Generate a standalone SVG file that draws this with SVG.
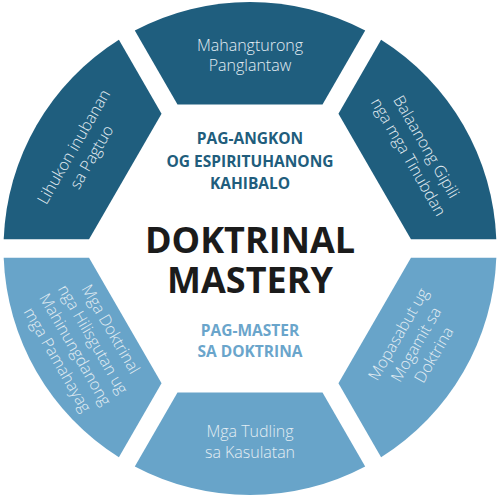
<svg xmlns="http://www.w3.org/2000/svg" width="500" height="497" viewBox="0 0 500 497">
<style>
.dark{fill:#1f5e7e}
.light{fill:#68a4c9}
.seg{font-family:"Open Sans","Noto Sans","Liberation Sans",sans-serif;font-weight:300;font-size:16px;fill:#e3edf3;text-anchor:middle}
.sub{font-family:"Open Sans","Noto Sans","Liberation Sans",sans-serif;font-weight:700;font-size:15.5px;text-anchor:middle}
.title{font-family:"Open Sans","Noto Sans","Liberation Sans",sans-serif;font-weight:700;font-size:36px;fill:#1b1b1b;text-anchor:middle}
</style>
<defs>
<path id="segshape" d="M134.8 30.6 A246.5 246.5 0 0 1 365.2 30.6 L322.5 104.5 L177.5 104.5 Z"/>
</defs>
<rect width="500" height="497" fill="#ffffff"/>
<g id="seg-top">
<use href="#segshape" class="dark"/>
<text class="seg" x="250" y="50.7">Mahangturong</text>
<text class="seg" x="250" y="71">Panglantaw</text>
</g>
<g id="seg-top-right">
<use href="#segshape" class="dark" transform="rotate(60 250 248.5)"/>
<g transform="translate(416.3 152.5) rotate(60)">
<text class="seg" x="0" y="-6">Balaanong Gipili</text>
<text class="seg" x="0" y="14.5">nga mga Tinubdan</text>
</g>
</g>
<g id="seg-bottom-right">
<use href="#segshape" class="light" transform="rotate(120 250 248.5)"/>
<g transform="translate(417 345) rotate(-60)">
<text class="seg" x="0" y="-16">Mopasabut ug</text>
<text class="seg" x="0" y="4.5">Mogamit sa</text>
<text class="seg" x="0" y="25">Doktrina</text>
</g>
</g>
<g id="seg-bottom">
<use href="#segshape" class="light" transform="rotate(180 250 248.5)"/>
<text class="seg" x="250" y="437">Mga Tudling</text>
<text class="seg" x="250" y="458">sa Kasulatan</text>
</g>
<g id="seg-bottom-left">
<use href="#segshape" class="light" transform="rotate(240 250 248.5)"/>
<g transform="translate(83 345) rotate(60)">
<text class="seg" x="0" y="-26.5">Mga Doktrinal</text>
<text class="seg" x="0" y="-6">nga Hilisgutan ug</text>
<text class="seg" x="0" y="14.5">Mahinungdanong</text>
<text class="seg" x="0" y="35">mga Pamahayag</text>
</g>
</g>
<g id="seg-top-left">
<use href="#segshape" class="dark" transform="rotate(300 250 248.5)"/>
<g transform="translate(83.7 152.5) rotate(-60)">
<text class="seg" x="0" y="-6">Lihukon inubanan</text>
<text class="seg" x="0" y="14.5">sa Pagtuo</text>
</g>
</g>
<g id="center">
<text class="sub" x="250" y="144.3" fill="#215d7c">PAG-ANGKON</text>
<text class="sub" x="250" y="166.7" fill="#215d7c">OG ESPIRITUHANONG</text>
<text class="sub" x="250" y="189" fill="#215d7c">KAHIBALO</text>
<text class="title" x="250" y="253.3">DOKTRINAL</text>
<text class="title" x="250" y="293.3">MASTERY</text>
<text class="sub" x="250" y="336" fill="#6aa5cb">PAG-MASTER</text>
<text class="sub" x="250" y="357.3" fill="#6aa5cb">SA DOKTRINA</text>
</g>
<g id="connectors"/>
</svg>
